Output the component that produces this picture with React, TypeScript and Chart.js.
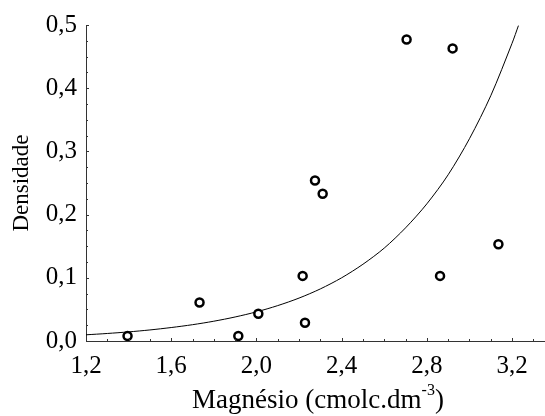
import React, { useEffect, useRef } from "react";
import { Chart, registerables } from "chart.js";

Chart.register(...registerables);

// Observed points
const magnesio = [1.395, 1.733, 1.915, 2.009, 2.217, 2.228, 2.275, 2.311, 2.705, 2.862, 2.921, 3.136];
const densidade = [0.008, 0.061, 0.008, 0.043, 0.103, 0.029, 0.254, 0.233, 0.477, 0.103, 0.463, 0.153];

// Fitted curve
const curveX = [1.2, 1.3, 1.4, 1.5, 1.6, 1.7, 1.8, 1.9, 2.0, 2.1, 2.2, 2.3, 2.4, 2.5, 2.6, 2.7, 2.8, 2.9, 3.0, 3.1, 3.2, 3.23];
const curveY = [0.0098, 0.0119, 0.0144, 0.0175, 0.0213, 0.0258, 0.0313, 0.038, 0.0461, 0.056, 0.0679, 0.0824, 0.1, 0.1214, 0.147, 0.179, 0.217, 0.263, 0.32, 0.388, 0.471, 0.499];

const xTicks = [1.2, 1.6, 2.0, 2.4, 2.8, 3.2];
const yTicks = [0, 0.1, 0.2, 0.3, 0.4, 0.5];

const xTitleMain = "Magnésio (cmolc.dm";
const xTitleSup = "-3";
const xTitleEnd = ")";
const yTitle = "Densidade";

const FONT = '"Liberation Serif", "Times New Roman", serif';

const axisDecor = {
  id: "axisDecor",
  afterDraw(chart: any) {
    const { ctx, chartArea, scales } = chart;
    const xs = scales.x;
    const ys = scales.y;
    ctx.save();
    ctx.strokeStyle = "#333";
    ctx.lineWidth = 1;
    ctx.beginPath();
    for (let i = 0; i <= 21; i++) {
      const v = 1.2 + i * 0.1;
      const px = Math.round(xs.getPixelForValue(v)) + 0.5;
      const len = i % 4 === 0 ? 3 : 2;
      ctx.moveTo(px, chartArea.bottom);
      ctx.lineTo(px, chartArea.bottom - len);
    }
    for (let i = 0; i <= 20; i++) {
      const v = i * 0.025;
      const py = Math.round(ys.getPixelForValue(v)) + 0.5;
      const len = i % 4 === 0 ? 3 : 2;
      ctx.moveTo(chartArea.left, py);
      ctx.lineTo(chartArea.left + len, py);
    }
    ctx.stroke();

    // x title with superscript
    ctx.fillStyle = "#000";
    ctx.textBaseline = "alphabetic";
    ctx.textAlign = "left";
    ctx.font = `27px ${FONT}`;
    const w1 = ctx.measureText(xTitleMain).width;
    const w3 = ctx.measureText(xTitleEnd).width;
    ctx.font = `16px ${FONT}`;
    const w2 = ctx.measureText(xTitleSup).width;
    const total = w1 + w2 + w3;
    const cx = 318;
    const start = cx - total / 2;
    const base = 408;
    ctx.font = `27px ${FONT}`;
    ctx.fillText(xTitleMain, start, base);
    ctx.font = `16px ${FONT}`;
    ctx.fillText(xTitleSup, start + w1, base - 13);
    ctx.font = `27px ${FONT}`;
    ctx.fillText(xTitleEnd, start + w1 + w2, base);
    ctx.restore();
  },
};

const fmt = (v: number) => v.toFixed(1).replace(".", ",");

export default function App() {
  const ref = useRef<HTMLCanvasElement | null>(null);

  useEffect(() => {
    document.body.style.margin = "0";
    if (!ref.current) return;
    const chart = new Chart(ref.current, {
      type: "scatter",
      data: {
        datasets: [
          {
            label: "Observado",
            data: magnesio.map((x, i) => ({ x, y: densidade[i] })),
            pointRadius: 4,
            pointBorderWidth: 2.5,
            pointBackgroundColor: "#fff",
            pointBorderColor: "#000",
            showLine: false,
            order: 0,
          },
          {
            label: "Ajuste",
            data: curveX.map((x, i) => ({ x, y: curveY[i] })),
            showLine: true,
            pointRadius: 0,
            borderColor: "#000",
            borderWidth: 1,
            tension: 0.3,
            fill: false,
            order: 1,
          } as any,
        ],
      },
      options: {
        responsive: false,
        animation: false,
        devicePixelRatio: 1,
        layout: { autoPadding: false, padding: { top: 25, right: 1, left: 0, bottom: 0 } },
        plugins: {
          legend: { display: false },
          tooltip: { enabled: false },
        },
        scales: {
          x: {
            type: "linear",
            min: 1.2,
            max: 3.35,
            afterFit: (s: any) => {
              s.height = 75;
              s.paddingLeft = 0;
              s.paddingRight = 0;
            },
            afterBuildTicks: (s: any) => {
              s.ticks = xTicks.map((v) => ({ value: v }));
            },
            grid: { display: true, drawOnChartArea: false, drawTicks: false },
            border: { display: true, color: "#333", width: 1 },
            ticks: {
              padding: 10,
              color: "#000",
              font: { family: FONT, size: 25 },
              maxRotation: 0,
              callback: (v: any) => fmt(Number(v)),
            },
          },
          y: {
            type: "linear",
            min: 0,
            max: 0.5,
            afterFit: (s: any) => {
              s.width = 86;
              s.paddingTop = 0;
              s.paddingBottom = 0;
            },
            afterBuildTicks: (s: any) => {
              s.ticks = yTicks.map((v) => ({ value: v }));
            },
            grid: { display: true, drawOnChartArea: false, drawTicks: false },
            border: { display: true, color: "#333", width: 1 },
            ticks: {
              padding: 9,
              color: "#000",
              font: { family: FONT, size: 25 },
              callback: (v: any) => fmt(Number(v)),
            },
            title: {
              display: true,
              text: yTitle,
              color: "#000",
              font: { family: FONT, size: 23 },
              padding: { top: 8, bottom: 0 },
            },
          },
        },
      },
      plugins: [axisDecor],
    });
    return () => chart.destroy();
  }, []);

  return (
    <div style={{ position: "relative", width: 545, height: 416 }}>
      <canvas ref={ref} width={545} height={416} style={{ display: "block" }} />
    </div>
  );
}
